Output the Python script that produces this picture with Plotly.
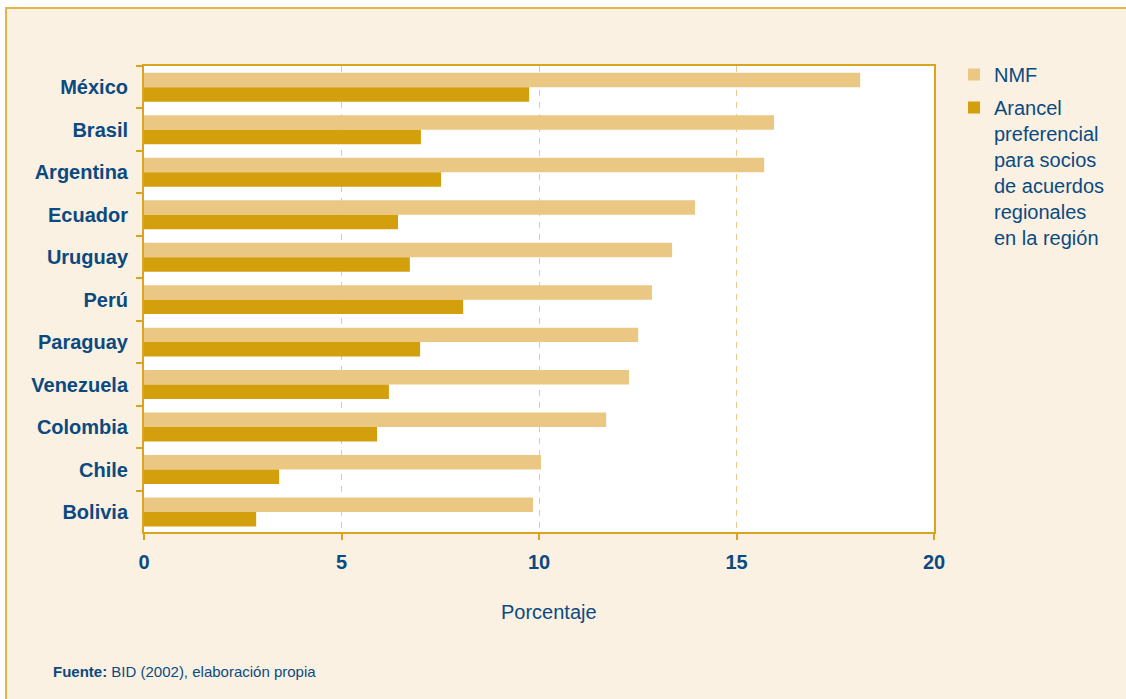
import plotly.graph_objects as go

countries = ["México", "Brasil", "Argentina", "Ecuador", "Uruguay", "Perú",
             "Paraguay", "Venezuela", "Colombia", "Chile", "Bolivia"]
nmf = [18.13, 15.95, 15.70, 13.95, 13.37, 12.86, 12.51, 12.28, 11.70, 10.05, 9.85]
preferencial = [9.75, 7.01, 7.52, 6.43, 6.73, 8.08, 6.99, 6.20, 5.90, 3.42, 2.84]
x_ticks = [0, 5, 10, 15, 20]

BLUE = "#0B4A80"
GOLD = "#D9A521"
FRAME = "#E3B54A"
BG = "#FAF1E3"

W, H = 1126, 699
L, R, T, B = 144, 934, 66, 532


def px_x(p):
    return (p - L) / (R - L)


def px_y(p):
    return (B - p) / (B - T)


fig = go.Figure()
fig.add_trace(go.Bar(y=countries, x=nmf, orientation="h", name="NMF", legendgroup="a",
                     marker=dict(color="#EBC784", line=dict(width=0))))
fig.add_trace(go.Bar(y=countries, x=preferencial, orientation="h", legendgroup="b",
                     name="Arancel<br>preferencial<br>para socios<br>de acuerdos<br>regionales<br>en la región",
                     marker=dict(color="#D49F0C", line=dict(width=0))))

fig.update_layout(
    width=W, height=H,
    margin=dict(l=L, r=W - R, t=T, b=H - B, pad=0),
    paper_bgcolor=BG, plot_bgcolor="white",
    barmode="group", bargap=0.318, bargroupgap=0,
    font=dict(family="Liberation Sans, Arial, sans-serif", color=BLUE, size=20),
    showlegend=True,
    legend=dict(x=px_x(954), y=px_y(55), xanchor="left", yanchor="top",
                xref="paper", yref="paper", bgcolor="rgba(0,0,0,0)",
                font=dict(size=20, color=BLUE), valign="top",
                traceorder="grouped", tracegroupgap=4),
    xaxis=dict(range=[0, 20], tickvals=x_ticks, ticktext=[str(v) for v in x_ticks],
               showline=True, linecolor=GOLD, linewidth=2, mirror=True,
               ticks="outside", ticklen=6, tickcolor=GOLD, tickwidth=1.5,
               showgrid=True, gridcolor="#E8C98E", gridwidth=1, griddash="6px,6px",
               zeroline=False,
               tickfont=dict(size=20, color=BLUE, family="Liberation Sans, Arial, sans-serif", weight="bold"),
               ticklabelstandoff=5, fixedrange=True),
    yaxis=dict(type="category", range=[10.47, -0.5],
               showline=True, linecolor=GOLD, linewidth=2, mirror=True,
               ticks="outside", ticklen=6, tickcolor=GOLD, tickwidth=1.5,
               tickson="boundaries", showgrid=False, zeroline=False,
               tickfont=dict(size=20, color=BLUE, family="Liberation Sans, Arial, sans-serif", weight="bold"),
               ticklabelstandoff=10, fixedrange=True),
    shapes=[
        dict(type="rect", xref="paper", yref="paper", layer="above",
             x0=px_x(-20), x1=px_x(W + 20), y0=px_y(8), y1=px_y(-20),
             fillcolor="white", line=dict(width=0)),
        dict(type="rect", xref="paper", yref="paper", layer="above",
             x0=px_x(-20), x1=px_x(6), y0=px_y(H + 20), y1=px_y(-20),
             fillcolor="white", line=dict(width=0)),
        dict(type="rect", xref="paper", yref="paper", layer="above",
             x0=px_x(6), x1=px_x(W + 20), y0=px_y(H + 20), y1=px_y(8),
             fillcolor="rgba(0,0,0,0)", line=dict(color=FRAME, width=2)),
    ],
    annotations=[
        dict(text="Porcentaje", xref="paper", yref="paper", x=px_x(549), y=px_y(612),
             xanchor="center", yanchor="middle", showarrow=False,
             font=dict(size=20, color=BLUE)),
        dict(text="<b>Fuente:</b> BID (2002), elaboración propia", xref="paper", yref="paper",
             x=px_x(51), y=px_y(671), xanchor="left", yanchor="middle", showarrow=False,
             font=dict(size=15, color=BLUE)),
    ],
)

fig.write_html("out.html", config={"displayModeBar": False},
               post_script="document.body.style.margin='0';document.body.style.overflow='hidden';")
